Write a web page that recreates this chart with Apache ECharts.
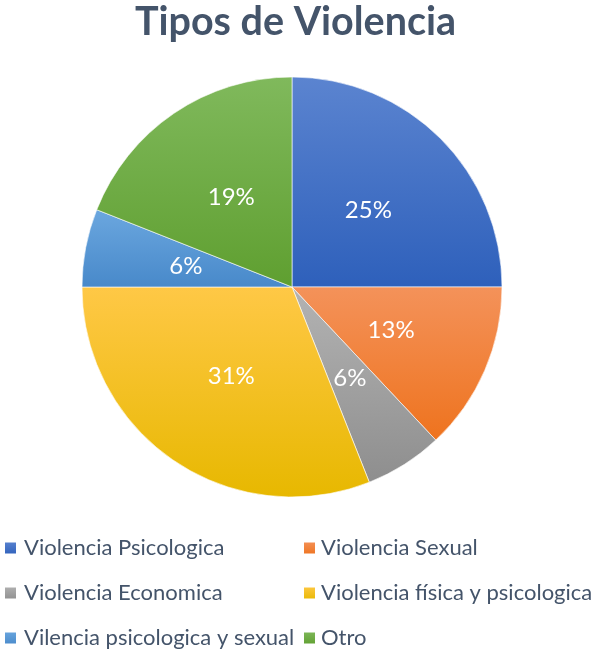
<!DOCTYPE html>
<html><head><meta charset="utf-8">
<script src="https://cdn.jsdelivr.net/npm/echarts@6/dist/echarts.min.js"></script>
<style>html,body{margin:0;padding:0;background:#fff}#c{width:591px;height:650px}</style>
</head><body><div id="c"></div>
<script>
var categories = ["Violencia Psicologica","Violencia Sexual","Violencia Economica","Violencia física y psicologica","Vilencia psicologica y sexual","Otro"];
var values = [25, 13, 6, 31, 6, 19];
var topColors = ["#5B84D0","#F4925A","#B3B3B3","#FFC846","#6BA7DF","#80B95C"];
var bottomColors = ["#2E60BB","#EE731E","#8E8E8E","#E7B800","#4889CA","#5F9F30"];

function grad(i){
  return new echarts.graphic.LinearGradient(0,0,0,1,[{offset:0,color:topColors[i]},{offset:1,color:bottomColors[i]}]);
}
var data = categories.map(function(n,i){return {name:n,value:values[i],itemStyle:{color:grad(i)}};});
var FONT = "Lato, 'Open Sans', sans-serif";
var legendPos = [[3,537],[302,537],[3,582],[302,582],[3,627],[302,627]];
var legends = categories.map(function(n,i){
  return {data:[n],left:legendPos[i][0],top:legendPos[i][1],padding:0,itemWidth:13,itemHeight:13,icon:'rect',
    textStyle:{fontFamily:FONT,fontSize:22,lineHeight:22,color:'#44546A',padding:[0,0,0,i%2===0?2:0]}};
});
var chart = echarts.init(document.getElementById('c'));
chart.setOption({
  animation:false,
  title:{text:"Tipos de Violencia",left:'center',top:-3,textStyle:{fontFamily:FONT,fontWeight:'bold',fontSize:39.5,color:'#44546A'}},
  legend:legends,
  series:[{
    type:'pie',center:[292,287],radius:[0,210],startAngle:90,clockwise:true,
    data:data,
    itemStyle:{borderColor:'#fff',borderWidth:0.6},
    label:{show:true,position:'inside',formatter:'{d}%',color:'#fff',fontFamily:FONT,fontSize:24},
    labelLine:{show:false},
    emphasis:{disabled:true}
  }]
});
</script></body></html>
